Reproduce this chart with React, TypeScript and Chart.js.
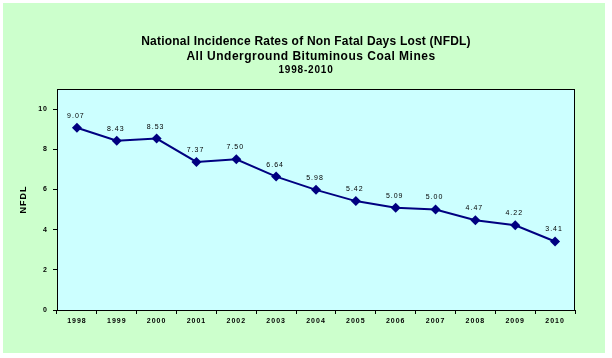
import React, { useEffect, useRef } from "react";
import { Chart, registerables } from "chart.js";

Chart.register(...registerables);

const years = ["1998", "1999", "2000", "2001", "2002", "2003", "2004", "2005", "2006", "2007", "2008", "2009", "2010"];
const nfdl = [9.07, 8.43, 8.53, 7.37, 7.5, 6.64, 5.98, 5.42, 5.09, 5.0, 4.47, 4.22, 3.41];
const titleLines = ["National Incidence Rates of Non Fatal Days Lost (NFDL)", "All Underground Bituminous Coal Mines"];
const subtitleText = "1998-2010";
const yAxisTitle = "NFDL";

const backgroundPlugin = {
  id: "bgPlugin",
  beforeDraw(chart: any) {
    const { ctx, chartArea } = chart;
    ctx.save();
    ctx.fillStyle = "#ffffff";
    ctx.fillRect(0, 0, chart.width, chart.height);
    ctx.fillStyle = "#CCFFCC";
    ctx.fillRect(3, 3, 602, 350);
    ctx.fillStyle = "#CCFFFF";
    ctx.fillRect(chartArea.left, chartArea.top, chartArea.right - chartArea.left, chartArea.bottom - chartArea.top);
    ctx.strokeStyle = "#000000";
    ctx.lineWidth = 1;
    ctx.strokeRect(chartArea.left + 0.5, chartArea.top + 0.5, chartArea.right - chartArea.left - 1, chartArea.bottom - chartArea.top);
    // titles
    ctx.fillStyle = "#000000";
    ctx.textAlign = "center";
    ctx.textBaseline = "middle";
    ctx.font = "bold 12px 'Liberation Sans', Arial, sans-serif";
    (ctx as any).letterSpacing = "0.2px";
    ctx.fillText(titleLines[0], 306, 42);
    (ctx as any).letterSpacing = "0.5px";
    ctx.fillText(titleLines[1], 311, 57);
    ctx.font = "bold 10px 'Liberation Sans', Arial, sans-serif";
    (ctx as any).letterSpacing = "0.8px";
    ctx.fillText(subtitleText, 306, 70);
    ctx.restore();
    (ctx as any).letterSpacing = "1px";
  },
  afterDatasetsDraw(chart: any) {
    const { ctx } = chart;
    const meta = chart.getDatasetMeta(0);
    ctx.save();
    ctx.fillStyle = "#000000";
    ctx.textAlign = "center";
    ctx.textBaseline = "middle";
    ctx.font = "7px 'Liberation Sans', Arial, sans-serif";
    (ctx as any).letterSpacing = "1px";
    meta.data.forEach((pt: any, i: number) => {
      ctx.fillText(nfdl[i].toFixed(2), pt.x - 1, pt.y - 12);
    });
    ctx.restore();
  },
};

export default function App() {
  const ref = useRef<HTMLCanvasElement | null>(null);
  useEffect(() => {
    document.body.style.margin = "0";
    const chart = new Chart(ref.current!, {
      type: "line",
      data: {
        labels: years,
        datasets: [
          {
            data: nfdl,
            borderColor: "#000080",
            backgroundColor: "#000080",
            borderWidth: 2,
            pointStyle: "rectRot",
            pointRadius: 5,
            pointBorderWidth: 0,
            tension: 0,
          },
        ],
      },
      options: {
        animation: false,
        responsive: false,
        maintainAspectRatio: false,
        layout: { padding: { left: 0, right: 37, top: 89, bottom: 20 } },
        plugins: { legend: { display: false }, title: { display: false }, tooltip: { enabled: false } },
        scales: {
          x: {
            offset: true,
            grid: { display: true, drawOnChartArea: false, offset: true, tickLength: 4, color: "#000000" },
            border: { display: true, color: "#000000", width: 1 },
            ticks: {
              color: "#000000",
              font: { family: "'Liberation Sans', Arial, sans-serif", size: 7, weight: "bold" },
              maxRotation: 0,
              autoSkip: false,
              padding: 3,
            },
            afterFit(scale: any) {
              scale.height = 28;
            },
          },
          y: {
            min: 0,
            max: 11,
            grid: { display: true, drawOnChartArea: false, tickLength: 4, color: "#000000" },
            border: { display: true, color: "#000000", width: 1 },
            ticks: {
              stepSize: 2,
              includeBounds: false,
              color: "#000000",
              padding: 5,
              font: { family: "'Liberation Sans', Arial, sans-serif", size: 7, weight: "bold" },
            },
            title: {
              display: true,
              text: yAxisTitle,
              color: "#000000",
              font: { family: "'Liberation Sans', Arial, sans-serif", size: 9, weight: "bold" },
              padding: { top: 18, bottom: 0 },
            },
            afterFit(scale: any) {
              scale.width = 57;
            },
          },
        },
      },
      plugins: [backgroundPlugin],
    });
    return () => chart.destroy();
  }, []);
  return (
    <div style={{ width: 612, height: 358 }}>
      <canvas ref={ref} width={612} height={358} style={{ display: "block", width: 612, height: 358 }} />
    </div>
  );
}
